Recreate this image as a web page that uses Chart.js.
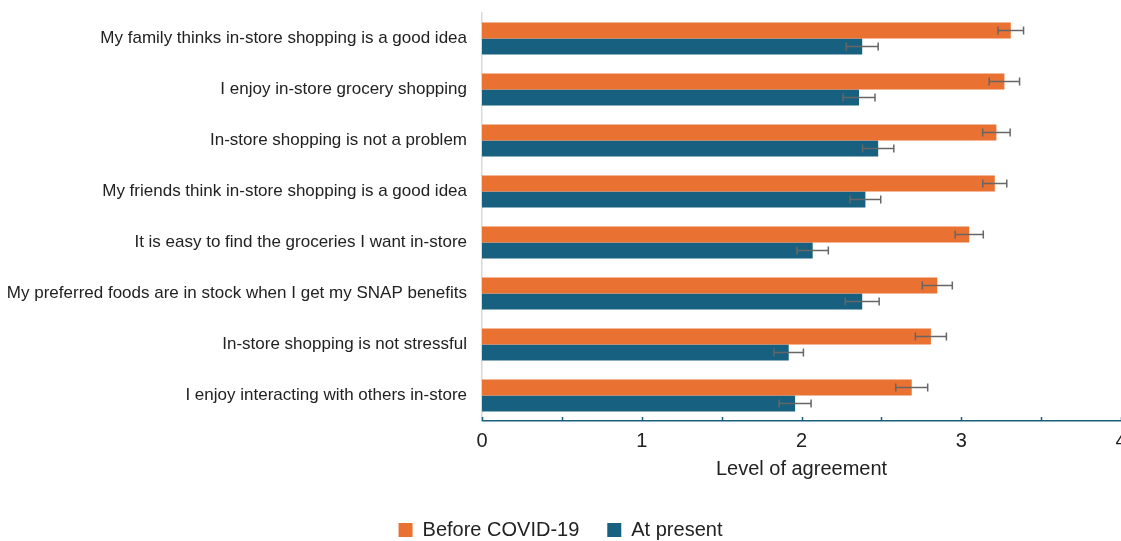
<!DOCTYPE html>
<html>
<head>
<meta charset="utf-8">
<script src="https://cdn.jsdelivr.net/npm/chart.js@4"></script>
<style>
  body { margin: 0; background: #fff; overflow: hidden; }
</style>
</head>
<body>
<canvas id="chart" width="1121" height="550"></canvas>
<script>
  const categories = [
    "My family thinks in-store shopping is a good idea",
    "I enjoy in-store grocery shopping",
    "In-store shopping is not a problem",
    "My friends think in-store shopping is a good idea",
    "It is easy to find the groceries I want in-store",
    "My preferred foods are in stock when I get my SNAP benefits",
    "In-store shopping is not stressful",
    "I enjoy interacting with others in-store"
  ];
  const beforeCovid = [3.31, 3.27, 3.22, 3.21, 3.05, 2.85, 2.81, 2.69];
  const beforeErr = [0.08, 0.095, 0.086, 0.075, 0.088, 0.094, 0.097, 0.1];
  const atPresent = [2.38, 2.36, 2.48, 2.40, 2.07, 2.38, 1.92, 1.96];
  const presentErr = [0.1, 0.1, 0.098, 0.096, 0.098, 0.106, 0.092, 0.1];
  const xTicks = [0, 1, 2, 3, 4];

  const orange = "#E97132";
  const blue = "#17607F";
  const font = "'Liberation Sans', Arial, sans-serif";

  // error bars drawn on top of each bar
  const errorBars = {
    id: "errorBars",
    afterDatasetsDraw(chart) {
      const ctx = chart.ctx;
      const xs = chart.scales.x;
      const errs = [beforeErr, presentErr];
      ctx.save();
      ctx.strokeStyle = "#666";
      ctx.lineWidth = 1.5;
      chart.data.datasets.forEach((ds, i) => {
        chart.getDatasetMeta(i).data.forEach((bar, j) => {
          const v = ds.data[j];
          const x1 = xs.getPixelForValue(v - errs[i][j]);
          const x2 = xs.getPixelForValue(v + errs[i][j]);
          const y = bar.y;
          ctx.beginPath();
          ctx.moveTo(x1, y); ctx.lineTo(x2, y);
          ctx.moveTo(x1, y - 4); ctx.lineTo(x1, y + 4);
          ctx.moveTo(x2, y - 4); ctx.lineTo(x2, y + 4);
          ctx.stroke();
        });
      });
      ctx.restore();
    }
  };

  // small tick marks pointing up from the x axis, every 0.5
  const axisTicks = {
    id: "axisTicks",
    afterDraw(chart) {
      const ctx = chart.ctx;
      const xs = chart.scales.x;
      const y = chart.chartArea.bottom;
      ctx.save();
      ctx.strokeStyle = blue;
      ctx.lineWidth = 1.5;
      for (let v = 0; v <= 4; v += 0.5) {
        const x = Math.round(xs.getPixelForValue(v)) + 0.5;
        ctx.beginPath();
        ctx.moveTo(x, y);
        ctx.lineTo(x, y - 4);
        ctx.stroke();
      }
      ctx.restore();
    }
  };

  new Chart(document.getElementById("chart"), {
    type: "bar",
    data: {
      labels: categories,
      datasets: [
        { label: "Before COVID-19", data: beforeCovid, backgroundColor: orange },
        { label: "At present", data: atPresent, backgroundColor: blue }
      ]
    },
    options: {
      indexAxis: "y",
      responsive: false,
      animation: false,
      layout: { padding: { top: 13, left: 0, right: 0, bottom: 0 } },
      datasets: { bar: { categoryPercentage: 0.63, barPercentage: 1 } },
      scales: {
        x: {
          min: 0,
          max: 4,
          afterBuildTicks(s) { s.ticks = xTicks.map(v => ({ value: v })); },
          afterFit(s) { s.paddingRight = 0; s.height = 71; },
          grid: { display: false, drawTicks: false },
          border: { display: true, color: blue, width: 1.5 },
          ticks: { padding: 8, color: "#222", font: { family: font, size: 20 }, maxRotation: 0 },
          title: {
            display: true,
            text: "Level of agreement",
            color: "#222",
            font: { family: font, size: 20 },
            padding: { top: 10, bottom: 11 }
          }
        },
        y: {
          afterFit(s) { s.width = 482; s.paddingTop = 0; s.paddingBottom = 0; },
          grid: { display: false, drawTicks: false },
          border: { display: true, color: "#d9d9d9", width: 1.5 },
          ticks: { padding: 15, color: "#222", font: { family: font, size: 17 } }
        }
      },
      plugins: {
        legend: {
          position: "bottom",
          labels: {
            boxWidth: 14,
            boxHeight: 14,
            padding: 28,
            color: "#222",
            font: { family: font, size: 20 }
          }
        },
        tooltip: { enabled: false }
      }
    },
    plugins: [errorBars, axisTicks]
  });
</script>
</body>
</html>
